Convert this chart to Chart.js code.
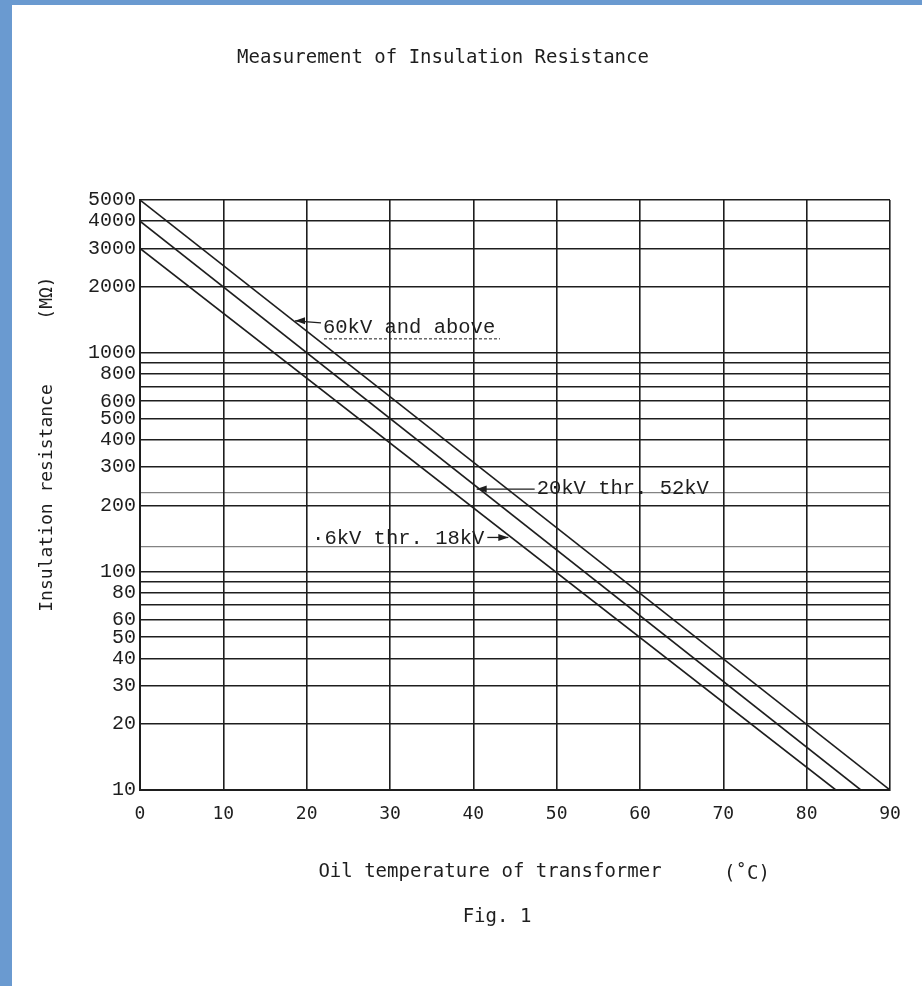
<!DOCTYPE html>
<html>
<head>
<meta charset="utf-8">
<script src="https://cdn.jsdelivr.net/npm/chart.js@4.4.1/dist/chart.umd.min.js"></script>
<style>
  html, body { margin: 0; padding: 0; background: #fff; }
  #wrap { position: relative; width: 922px; height: 986px; }
  #stripLeft { position: absolute; left: 0; top: 0; width: 12px; height: 986px; background: #6a9ad0; }
  #stripTop { position: absolute; left: 0; top: 0; width: 922px; height: 5px; background: #6a9ad0; }
</style>
</head>
<body>
<div id="wrap">
  <canvas id="insulation"></canvas>
  <div id="stripLeft"></div>
  <div id="stripTop"></div>
</div>
<script>
// oil temperature (C) / insulation resistance (MOhm)
const hvTemps = [0, 90];
const hvValues = [5000, 10];
const mvTemps = [0, 86.5];
const mvValues = [4000, 10];
const lvTemps = [0, 83.5];
const lvValues = [3000, 10];

const tempTicks = [0, 10, 20, 30, 40, 50, 60, 70, 80, 90];
const resistanceGrid = [10, 20, 30, 40, 50, 60, 70, 80, 90, 100, 130, 200, 230, 300, 400, 500,
  600, 700, 800, 900, 1000, 2000, 3000, 4000, 5000];
const resistanceLabels = [10, 20, 30, 40, 50, 60, 80, 100, 200, 300, 400, 500, 600, 800,
  1000, 2000, 3000, 4000, 5000];
const faintGrid = [130, 230];

// callouts: text and the point on the curve the arrow touches
const noteTexts = ['60kV and above', '20kV thr. 52kV', '\u00b76kV thr. 18kV'];
const noteTemps = [18.6, 40.4, 44.2];
const noteValues = [1400, 238, 143];

const ink = '#1e1e1e';
const typeFont = '"Liberation Mono", "DejaVu Sans Mono", monospace';
const printFont = '"DejaVu Sans Mono", monospace';

const toPoints = (xs, ys) => xs.map((x, i) => ({x: x, y: ys[i]}));

function arrowHead(ctx, x, y, dir) {
  ctx.beginPath();
  ctx.moveTo(x, y);
  ctx.lineTo(x - dir * 10, y - 3.5);
  ctx.lineTo(x - dir * 10, y + 3.5);
  ctx.closePath();
  ctx.fill();
}

const scanLabels = {
  id: 'scanLabels',
  afterDraw(chart) {
    const ctx = chart.ctx;
    const xs = chart.scales.x;
    const ys = chart.scales.y;
    ctx.save();
    ctx.fillStyle = ink;
    ctx.strokeStyle = ink;
    ctx.textBaseline = 'middle';

    // page title, axis titles, figure number
    ctx.font = '19px ' + printFont;
    ctx.textAlign = 'center';
    ctx.fillText('Measurement of Insulation Resistance', 443, 58);
    ctx.fillText('Oil temperature of transformer', 490, 872);
    ctx.fillText('(\u02daC)', 747, 874);
    ctx.fillText('Fig. 1', 497, 917);

    ctx.save();
    ctx.translate(47, 0);
    ctx.rotate(-Math.PI / 2);
    ctx.font = '18px ' + printFont;
    ctx.fillText('Insulation resistance', -498, 0);
    ctx.fillText('(M\u03a9)', -298, 0);
    ctx.restore();

    // callouts
    ctx.font = '20.5px ' + typeFont;
    ctx.lineWidth = 1.3;
    const tips = noteTemps.map((t, i) => [xs.getPixelForValue(t), ys.getPixelForValue(noteValues[i])]);

    let [tx, ty] = tips[0];
    ctx.beginPath();
    ctx.moveTo(tx, ty);
    ctx.lineTo(tx + 26, ty + 2);
    ctx.stroke();
    arrowHead(ctx, tx, ty, -1);
    ctx.textAlign = 'left';
    ctx.fillText(noteTexts[0], tx + 28, ty + 7);
    ctx.save();
    ctx.setLineDash([3, 2]);
    ctx.lineWidth = 1;
    ctx.beginPath();
    ctx.moveTo(tx + 29, ty + 18);
    ctx.lineTo(tx + 205, ty + 18);
    ctx.stroke();
    ctx.restore();

    [tx, ty] = tips[1];
    ctx.beginPath();
    ctx.moveTo(tx, ty);
    ctx.lineTo(tx + 58, ty);
    ctx.stroke();
    arrowHead(ctx, tx, ty, -1);
    ctx.fillText(noteTexts[1], tx + 60, ty);

    [tx, ty] = tips[2];
    ctx.beginPath();
    ctx.moveTo(tx - 21, ty);
    ctx.lineTo(tx, ty);
    ctx.stroke();
    arrowHead(ctx, tx, ty, 1);
    ctx.textAlign = 'right';
    ctx.fillText(noteTexts[2], tx - 24, ty + 1);

    ctx.restore();
  }
};

const lineStyle = {
  borderColor: ink,
  borderWidth: 1.6,
  pointRadius: 0,
  tension: 0,
  fill: false
};

const config = {
  type: 'line',
  data: {
    datasets: [
      Object.assign({label: '60kV and above', data: toPoints(hvTemps, hvValues)}, lineStyle),
      Object.assign({label: '20kV thr. 52kV', data: toPoints(mvTemps, mvValues)}, lineStyle),
      Object.assign({label: '6kV thr. 18kV', data: toPoints(lvTemps, lvValues)}, lineStyle)
    ]
  },
  options: {
    responsive: true,
    maintainAspectRatio: false,
    animation: false,
    events: [],
    layout: {
      padding: {left: 12, right: 32, top: 200, bottom: 156}
    },
    scales: {
      x: {
        type: 'linear',
        min: 0,
        max: 90,
        afterBuildTicks: (scale) => { scale.ticks = tempTicks.map(v => ({value: v})); },
        afterFit: (scale) => { scale.height = 40; },
        grid: {color: ink, lineWidth: 1.6, drawTicks: false},
        border: {color: ink, width: 2},
        ticks: {
          color: ink,
          padding: 14,
          maxRotation: 0,
          font: {family: printFont, size: 18}
        }
      },
      y: {
        type: 'logarithmic',
        min: 10,
        max: 5000,
        afterBuildTicks: (scale) => { scale.ticks = resistanceGrid.map(v => ({value: v})); },
        afterFit: (scale) => { scale.width = 128; },
        grid: {
          color: (c) => faintGrid.includes(c.tick && c.tick.value) ? 'rgba(30,30,30,0.55)' : ink,
          lineWidth: (c) => faintGrid.includes(c.tick && c.tick.value) ? 1.2 : 1.6,
          drawTicks: false
        },
        border: {color: ink, width: 2},
        ticks: {
          color: ink,
          padding: 4,
          autoSkip: false,
          font: {family: typeFont, size: 20},
          callback: (value) => resistanceLabels.includes(value) ? String(value) : ''
        }
      }
    },
    plugins: {
      legend: {display: false},
      tooltip: {enabled: false},
      title: {display: false}
    }
  },
  plugins: [scanLabels]
};

new Chart(document.getElementById('insulation'), config);
</script>
</body>
</html>
